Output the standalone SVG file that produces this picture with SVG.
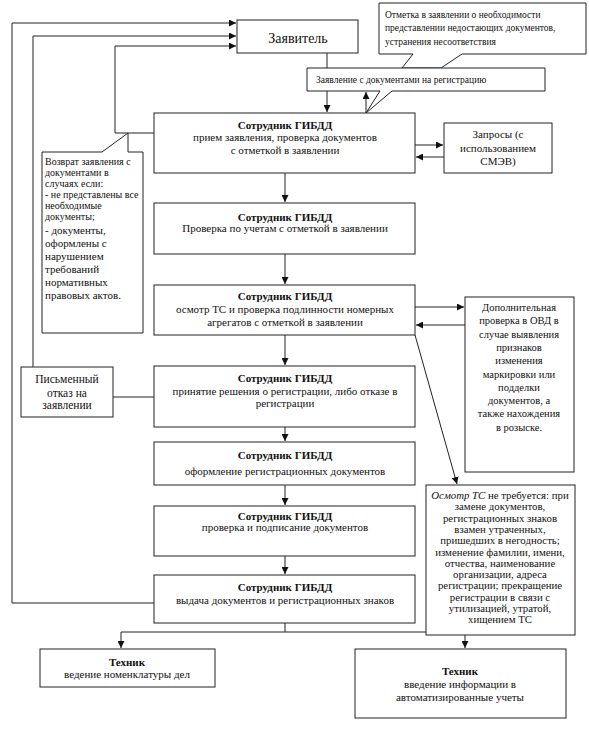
<svg xmlns="http://www.w3.org/2000/svg" width="589" height="729" viewBox="0 0 589 729" font-family="'Liberation Serif', 'Times New Roman', serif">
<defs>
<style>
.b{fill:#fff;stroke:#222;stroke-width:1}
.c{fill:none;stroke:#222;stroke-width:1}
text{font-family:"Liberation Serif","Times New Roman",serif;fill:#111}
.t{font-size:11px;text-anchor:middle}
.h{font-size:11px;font-weight:bold;text-anchor:middle}
.s{font-size:9.5px}
.r{font-size:10px}
.q{font-size:11px}
.m{font-size:10.5px;text-anchor:middle}
.n{font-size:10.8px;text-anchor:middle}
</style>
<marker id="a" markerUnits="userSpaceOnUse" markerWidth="8" markerHeight="7" refX="7" refY="3.5" orient="auto">
<path d="M0,0 L7,3.5 L0,7 z" fill="#111"/>
</marker>
</defs>
<rect width="589" height="729" fill="#fff"/>

<g id="connectors">
<path class="c" d="M154,603 H12 V23 H236" marker-end="url(#a)"/>
<path class="c" d="M33,367 V36 H236" marker-end="url(#a)"/>
<path class="c" d="M154,133 H115 V46 H236" marker-end="url(#a)"/>
<path class="c" d="M154,397 H113"/>
<path class="c" d="M327,53 V112" marker-end="url(#a)"/>
<path class="c" d="M366,113 V92" marker-end="url(#a)"/>
<path class="c" d="M285,173 V202" marker-end="url(#a)"/>
<path class="c" d="M285,254 V284" marker-end="url(#a)"/>
<path class="c" d="M285,335 V365" marker-end="url(#a)"/>
<path class="c" d="M285,427 V441" marker-end="url(#a)"/>
<path class="c" d="M285,485 V505" marker-end="url(#a)"/>
<path class="c" d="M285,556 V574" marker-end="url(#a)"/>
<path class="c" d="M415,145 H443" marker-end="url(#a)"/>
<path class="c" d="M444,157 H416" marker-end="url(#a)"/>
<path class="c" d="M415,307 H464" marker-end="url(#a)"/>
<path class="c" d="M465,325 H416" marker-end="url(#a)"/>
<path class="c" d="M415,335 L457,484" marker-end="url(#a)"/>
<path class="c" d="M285,623 V632 M121,632 H465"/>
<path class="c" d="M121,632 V648" marker-end="url(#a)"/>
<path class="c" d="M465,632 V648" marker-end="url(#a)"/>
</g>

<g id="applicant">
<rect class="b" x="237" y="20" width="121" height="33"/>
<text x="298" y="43" style="font-size:14px;text-anchor:middle">Заявитель</text>
</g>

<g id="note-missing">
<path class="b" d="M379,3 H586 V54 H462 L441,68 L402,68 L413,54 H379 Z"/>
<text class="s" x="385" y="18">Отметка в заявлении о необходимости</text>
<text class="s" x="385" y="31">представлении недостающих документов,</text>
<text class="s" x="385" y="45">устранения несоответствия</text>
</g>

<g id="note-application">
<path class="b" d="M307,68 H545 V91 H392 L366,113 L380,91 H307 Z"/>
<text class="s" x="316" y="83">Заявление с документами на регистрацию</text>
</g>

<g id="step1">
<rect class="b" x="154" y="113" width="261" height="60"/>
<text class="h" x="285" y="129">Сотрудник ГИБДД</text>
<text class="t" x="285" y="141">прием заявления, проверка документов</text>
<text class="t" x="285" y="154">с отметкой в заявлении</text>
</g>

<g id="requests">
<rect class="b" x="444" y="123" width="108" height="50"/>
<text class="t" x="498" y="138">Запросы (с</text>
<text class="t" x="498" y="151.5">использованием</text>
<text class="t" x="498" y="165">СМЭВ)</text>
</g>

<g id="note-return">
<path class="b" d="M42,152 H102 L128,133 V152 H143 V333 H42 Z"/>
<text class="r" x="45" y="165">Возврат заявления с</text>
<text class="r" x="45" y="176">документами  в</text>
<text class="r" x="45" y="187">случаях если:</text>
<text class="r" x="45" y="198">- не представлены все</text>
<text class="r" x="45" y="209">необходимые</text>
<text class="r" x="45" y="220">документы;</text>
<text class="q" x="45" y="234">- документы,</text>
<text class="q" x="45" y="247">оформлены с</text>
<text class="q" x="45" y="260">нарушением</text>
<text class="q" x="45" y="273">требований</text>
<text class="q" x="45" y="286">нормативных</text>
<text class="q" x="45" y="299">правовых актов.</text>
</g>

<g id="step2">
<rect class="b" x="154" y="203" width="261" height="51"/>
<text class="h" x="285" y="221">Сотрудник ГИБДД</text>
<text class="t" x="285" y="232">Проверка по учетам с отметкой в заявлении</text>
</g>

<g id="step3">
<rect class="b" x="154" y="285" width="261" height="50"/>
<text class="h" x="285" y="300">Сотрудник ГИБДД</text>
<text class="t" x="285" y="313">осмотр ТС и проверка  подлинности номерных</text>
<text class="t" x="285" y="326">агрегатов с отметкой в заявлении</text>
</g>

<g id="extra-check">
<rect class="b" x="465" y="297" width="109" height="175"/>
<text class="m" x="519" y="311">Дополнительная</text>
<text class="m" x="519" y="324.3">проверка в ОВД в</text>
<text class="m" x="519" y="337.6">случае выявления</text>
<text class="m" x="519" y="350.9">признаков</text>
<text class="m" x="519" y="364.2">изменения</text>
<text class="m" x="519" y="377.5">маркировки  или</text>
<text class="m" x="519" y="390.8">подделки</text>
<text class="m" x="519" y="404.1">документов, а</text>
<text class="m" x="519" y="417.4">также нахождения</text>
<text class="m" x="519" y="430.7">в розыске.</text>
</g>

<g id="refusal">
<rect class="b" x="21" y="367" width="92" height="50"/>
<text class="t" x="67" y="383" style="font-size:11.5px">Письменный</text>
<text class="t" x="67" y="397" style="font-size:11.5px">отказ  на</text>
<text class="t" x="67" y="409" style="font-size:11.5px">заявлении</text>
</g>

<g id="step4">
<rect class="b" x="154" y="366" width="261" height="61"/>
<text class="h" x="285" y="382">Сотрудник ГИБДД</text>
<text class="t" x="285" y="395">принятие решения о регистрации, либо отказе в</text>
<text class="t" x="285" y="407">регистрации</text>
</g>

<g id="step5">
<rect class="b" x="154" y="442" width="261" height="43"/>
<text class="h" x="285" y="459">Сотрудник ГИБДД</text>
<text class="t" x="285" y="475">оформление регистрационных  документов</text>
</g>

<g id="no-inspection">
<rect class="b" x="426" y="485" width="149" height="150"/>
<text class="n" x="500" y="499"><tspan font-style="italic">Осмотр ТС</tspan> не требуется: при</text>
<text class="n" x="500" y="510.3">замене документов,</text>
<text class="n" x="500" y="521.6">регистрационных знаков</text>
<text class="n" x="500" y="532.9">взамен утраченных,</text>
<text class="n" x="500" y="544.2">пришедших в негодность;</text>
<text class="n" x="500" y="555.5">изменение фамилии, имени,</text>
<text class="n" x="500" y="566.8">отчества, наименование</text>
<text class="n" x="500" y="578.1">организации, адреса</text>
<text class="n" x="500" y="589.4">регистрации; прекращение</text>
<text class="n" x="500" y="600.7">регистрации в связи с</text>
<text class="n" x="500" y="612">утилизацией, утратой,</text>
<text class="n" x="500" y="623.3">хищением ТС</text>
</g>

<g id="step6">
<rect class="b" x="154" y="506" width="261" height="50"/>
<text class="h" x="285" y="520">Сотрудник ГИБДД</text>
<text class="t" x="285" y="531">проверка и подписание документов</text>
</g>

<g id="step7">
<rect class="b" x="154" y="575" width="261" height="48"/>
<text class="h" x="285" y="591">Сотрудник ГИБДД</text>
<text class="t" x="285" y="604">выдача документов и регистрационных знаков</text>
</g>

<g id="tech1">
<rect class="b" x="40" y="649" width="175" height="38"/>
<text class="h" x="127" y="666">Техник</text>
<text class="t" x="127" y="678">ведение номенклатуры дел</text>
</g>

<g id="tech2">
<rect class="b" x="355" y="649" width="211" height="69"/>
<text class="h" x="460" y="675">Техник</text>
<text class="t" x="460" y="688">введение информации в</text>
<text class="t" x="460" y="701">автоматизированные учеты</text>
</g>
</svg>
